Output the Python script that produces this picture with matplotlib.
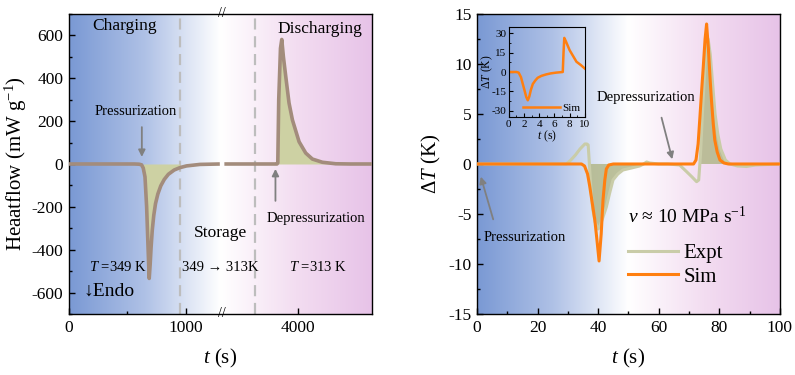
import numpy as np
import matplotlib
matplotlib.use("Agg")
import matplotlib.pyplot as plt
import matplotlib.ticker as ticker
import matplotlib.transforms as mtransforms
from matplotlib.colors import LinearSegmentedColormap

plt.rcParams['font.family'] = ['Liberation Serif', 'DejaVu Serif']
plt.rcParams['mathtext.fontset'] = 'custom'
plt.rcParams['mathtext.rm'] = 'Liberation Serif'
plt.rcParams['mathtext.it'] = 'Liberation Serif:italic'
plt.rcParams['axes.unicode_minus'] = False

# ---- left panel: heat flow (charging / storage / discharging)
hf_t_charge = [0, 560, 600, 621, 635, 650, 664, 678, 686, 694, 702, 712, 725,
               740, 760, 785, 815, 850, 900, 949, 1005, 1120, 1290]
hf_charge = [0, 0, -1, -4, -19, -60, -200, -418, -534, -470, -390, -310, -240,
             -185, -140, -102, -72, -48, -28, -17, -9, -2, 0]
hf_t_dis = [3370, 3600, 3820, 3827, 3835, 3850, 3861, 3875, 3895, 3923, 3952,
            4009, 4066, 4123, 4209, 4323, 4450, 4632]
hf_dis = [0, 0, 0, 5, 300, 540, 581, 500, 409, 285, 206, 104, 51, 23, 8, 1, 0, 0]
stage_lines = [949, 3632]
hf_xticks = [0, 1000, 4000]
hf_yticks = [-600, -400, -200, 0, 200, 400, 600]

# ---- right panel: temperature change
dt_t_sim = [0, 34.5, 35.5, 36.5, 37.2, 38.0, 38.9, 39.6, 40.3, 41.0, 41.6,
            42.2, 42.7, 43.5, 45, 60, 71.5, 72.3, 73.0, 73.6, 74.2, 74.7,
            75.3, 75.8, 76.4, 77.0, 77.4, 78.0, 78.5, 79.3, 80.2, 81.5, 83, 100]
dt_sim = [0, 0, -0.2, -1.0, -2.2, -3.8, -5.6, -7.6, -9.7, -7.0, -3.6,
          -1.6, -0.5, -0.1, 0, 0, 0, 0.4, 2.0, 4.7, 7.5, 9.7,
          12.5, 14.0, 11.5, 8.3, 6.4, 4.0, 2.4, 1.2, 0.4, 0.1, 0, 0]
dt_t_expt = [0, 29.5, 31, 32.5, 34, 35.6, 36.3, 36.7, 37.0, 37.5, 38.2, 39.0,
             40.0, 40.5, 41.5, 42.7, 43.8, 44.9, 46.5, 48.2, 51, 53.7, 55,
             56, 57, 60, 63, 65, 66.9, 69.2, 71, 72.5, 73.2, 73.8, 74.5, 75.3,
             76.3, 77.0, 77.8, 78.6, 79.5, 80.5, 82, 83.5, 86, 89, 92, 100]
dt_expt = [0, 0, 0.4, 0.9, 1.5, 2.0, 2.0, 1.9, 0.5, -2.0, -4.5, -5.8,
           -6.5, -6.3, -5.4, -4.3, -2.9, -1.6, -1.0, -0.6, -0.4, -0.2, 0,
           0.2, 0.1, 0, 0, -0.05, -0.1, -0.77, -1.3, -1.77, -1.6, 1.0, 5.5, 10.0,
           12.5, 11.0, 8.0, 5.0, 3.0, 1.5, 0.4, 0, -0.2, -0.25, -0.1, 0]
dt_xticks = [0, 20, 40, 60, 80, 100]
dt_yticks = [-15, -10, -5, 0, 5, 10, 15]

# ---- inset: simulated temperature change
ins_t = [0, 1.0, 1.3, 1.6, 1.84, 2.1, 2.3, 2.5, 2.7, 2.9, 3.16, 3.5, 3.8, 4.3,
         4.9, 5.5, 6.2, 7.1, 7.2, 7.3, 7.5, 8.0, 8.5, 8.9, 9.5, 10]
ins_sim = [0, 0, -0.5, -4, -9.3, -15, -19.5, -22, -19, -14, -9.3, -6.5, -4.5, -3,
           -1.9, -1.1, -0.5, 0, 15, 26.5, 24, 17, 12, 8, 5.3, 2.7]
ins_ticks_x = [0, 2, 4, 6, 8, 10]
ins_ticks_y = [-30, -15, 0, 15, 30]

# break in the time axis of the left panel
B1, B2, GAP = 1308.0, 3350.0, 1.0


def fwd(t):
    t = np.asarray(t, dtype=float)
    return np.where(t <= B1, t,
                    np.where(t >= B2, t - (B2 - B1) + GAP,
                             B1 + (t - B1) * GAP / (B2 - B1)))


def inv(u):
    u = np.asarray(u, dtype=float)
    return np.where(u <= B1, u,
                    np.where(u >= B1 + GAP, u + (B2 - B1) - GAP,
                             B1 + (u - B1) * (B2 - B1) / GAP))


bg_cmap = LinearSegmentedColormap.from_list(
    'bg', [(0, '#7A99D4'), (0.25, '#AFC1E6'), (0.5, '#FFFFFF'),
           (0.75, '#F3DDF1'), (1, '#E7C3E8')])
grad = np.linspace(0, 1, 256).reshape(1, -1)


def style_axes(ax, size=12.5):
    ax.tick_params(which='both', direction='in', top=False, right=False,
                   labelsize=size, pad=4)
    ax.tick_params(which='major', length=4, width=1)
    ax.tick_params(which='minor', length=2.5, width=1)
    for s in ax.spines.values():
        s.set_linewidth(1.0)


def main():
    fig = plt.figure(figsize=(7.95, 3.75), dpi=100)

    # ================= left panel
    ax1 = fig.add_axes([0.0868, 0.1627, 0.381, 0.80])
    ax1.set_xscale('function', functions=(fwd, inv))
    ax1.imshow(grad, extent=[0, 1, 0, 1], transform=ax1.transAxes,
               aspect='auto', cmap=bg_cmap, zorder=0)

    t1 = np.array(hf_t_charge)
    y1 = np.array(hf_charge)
    t2 = np.array(hf_t_dis)
    y2 = np.array(hf_dis)
    ax1.fill_between(t1, y1, 0, where=(t1 >= 630) & (t1 <= 960),
                     color='#CDD1A3', zorder=2, lw=0)
    ax1.fill_between(t2, y2, 0, where=(t2 >= 3827),
                     color='#CDD1A3', zorder=2, lw=0)
    ax1.plot(t1, y1, color='#A38C7C', lw=2.6, zorder=3, solid_capstyle='butt')
    ax1.plot(t2, y2, color='#A38C7C', lw=2.6, zorder=3, solid_capstyle='butt')

    for x in stage_lines:
        ax1.axvline(x, color='#BDBDBD', lw=1.6, ls=(0, (5, 3)), zorder=1)

    ax1.set_xlim(0, 4632)
    ax1.set_ylim(-700, 700)
    ax1.set_xticks(hf_xticks)
    ax1.xaxis.set_major_formatter(ticker.FixedFormatter([str(v) for v in hf_xticks]))
    ax1.xaxis.set_minor_locator(ticker.FixedLocator([500]))
    ax1.xaxis.set_minor_formatter(ticker.NullFormatter())
    ax1.set_yticks(hf_yticks)
    ax1.yaxis.set_minor_locator(ticker.MultipleLocator(100))
    style_axes(ax1)
    ax1.set_xlabel(r'$t$ (s)', fontsize=15, labelpad=8)
    ax1.set_ylabel(r'Heaatflow (mW g$^{-1}$)', fontsize=15, labelpad=2)

    trans = mtransforms.blended_transform_factory(ax1.transData, ax1.transAxes)
    for yy in (0, 1):
        ax1.text(B1 + 0.5, yy, '//', transform=trans, ha='center', va='center',
                 fontsize=10, clip_on=False, zorder=6)

    ax1.text(474, 642, 'Charging', fontsize=12.5, ha='center', va='center')
    ax1.text(4184, 628, 'Discharging', fontsize=12.5, ha='center', va='center')
    ax1.text(570, 244, 'Pressurization', fontsize=10.5, ha='center', va='center')
    ax1.annotate('', xy=(623, 20), xytext=(623, 185),
                 arrowprops=dict(arrowstyle='-|>', color='#808080', lw=1.3,
                                 mutation_scale=10))
    ax1.text(4150, -253, 'Depressurization', fontsize=10.5, ha='center', va='center')
    ax1.annotate('', xy=(3807, -10), xytext=(3807, -185),
                 arrowprops=dict(arrowstyle='-|>', color='#808080', lw=1.3,
                                 mutation_scale=10))
    ax1.text(1298, -323, 'Storage', fontsize=12.5, ha='center', va='center')
    ax1.text(421, -482, r'$T$ =349 K', fontsize=10.5, ha='center', va='center')
    ax1.text(1290, -482, '349 \u2192 313K', fontsize=10.5, ha='center', va='center')
    ax1.text(4175, -482, r'$T$ =313 K', fontsize=10.5, ha='center', va='center')
    ax1.text(343, -594, '\u2193Endo', fontsize=14, ha='center', va='center')

    # ================= right panel
    ax2 = fig.add_axes([0.600, 0.1627, 0.381, 0.80])
    ax2.imshow(grad, extent=[0, 1, 0, 1], transform=ax2.transAxes,
               aspect='auto', cmap=bg_cmap, zorder=0)
    te = np.array(dt_t_expt)
    ye = np.array(dt_expt)
    ax2.fill_between(te, ye, 0, where=((te >= 37) & (te <= 58)) | (te >= 73.5),
                     color='#B2B78A', alpha=0.85, lw=0, zorder=2)
    ax2.plot(te, ye, color='#C9CCA8', lw=2.2, zorder=3, label='Expt')
    ax2.plot(dt_t_sim, dt_sim, color='#FF7F10', lw=2.2, zorder=4, label='Sim')
    ax2.set_xlim(0, 100)
    ax2.set_ylim(-15, 15)
    ax2.set_xticks(dt_xticks)
    ax2.set_yticks(dt_yticks)
    ax2.xaxis.set_minor_locator(ticker.MultipleLocator(10))
    ax2.yaxis.set_minor_locator(ticker.MultipleLocator(2.5))
    style_axes(ax2)
    ax2.set_xlabel(r'$t$ (s)', fontsize=15, labelpad=8)
    ax2.set_ylabel(r'$\Delta T$ (K)', fontsize=15, labelpad=4)

    ax2.text(15.9, -7.4, 'Pressurization', fontsize=10.5, ha='center', va='center')
    ax2.annotate('', xy=(1.0, -1.0), xytext=(5.6, -5.8),
                 arrowprops=dict(arrowstyle='-|>', color='#808080', lw=1.3,
                                 mutation_scale=10))
    ax2.text(55.8, 6.6, 'Depressurization', fontsize=10.5, ha='center', va='center')
    ax2.annotate('', xy=(64.7, 0.2), xytext=(60.7, 4.9),
                 arrowprops=dict(arrowstyle='-|>', color='#808080', lw=1.3,
                                 mutation_scale=10))
    ax2.text(69.5, -5.3, '$v$ \u2248 10 MPa s$^{-1}$',
             fontsize=14, ha='center', va='center')
    ax2.legend(loc='center left', bbox_to_anchor=(0.50, 0.163), frameon=False,
               fontsize=15, handlelength=2.4, handletextpad=0.25,
               labelspacing=0.2, borderpad=0, borderaxespad=0)

    # ================= inset
    axi = fig.add_axes([0.640, 0.688, 0.0956, 0.24])
    axi.patch.set_alpha(0)
    axi.plot(ins_t, ins_sim, color='#FF7F10', lw=1.8, label='Sim')
    axi.set_xlim(0, 10)
    axi.set_ylim(-35, 35)
    axi.set_xticks(ins_ticks_x)
    axi.set_yticks(ins_ticks_y)
    axi.xaxis.set_minor_locator(ticker.MultipleLocator(1))
    axi.yaxis.set_minor_locator(ticker.MultipleLocator(7.5))
    axi.tick_params(which='both', direction='in', labelsize=8, pad=2)
    axi.tick_params(which='major', length=3)
    axi.tick_params(which='minor', length=1.5)
    axi.set_xlabel(r'$t$ (s)', fontsize=8.5, labelpad=0)
    axi.set_ylabel(r'$\Delta T$ (K)', fontsize=8.5, labelpad=-3)
    axi.legend(loc='lower right', frameon=False, fontsize=8, handlelength=3.3,
               handletextpad=0.2, borderpad=0.2, borderaxespad=0.2)

    fig.savefig('out.png', dpi=100)


if __name__ == "__main__":
    main()
